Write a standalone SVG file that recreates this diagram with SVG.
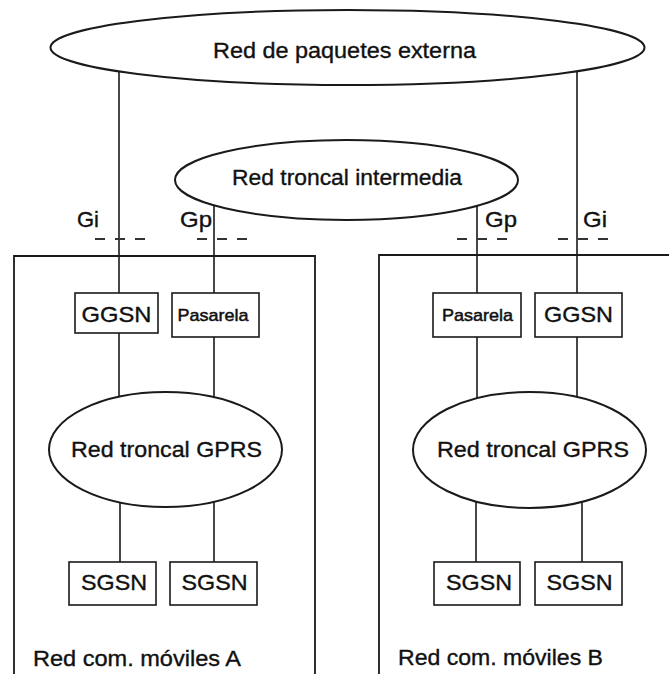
<svg xmlns="http://www.w3.org/2000/svg" width="669" height="674" viewBox="0 0 669 674">
  <style>
    .ln { stroke: #1a1a1a; stroke-width: 1.6; fill: none; }
    .dash { stroke: #333; stroke-width: 2; stroke-dasharray: 10 10; fill: none; }
    .net { stroke: #1a1a1a; stroke-width: 2; fill: #fff; }
    .box { stroke: #1a1a1a; stroke-width: 1.6; fill: #fff; }
    .zone { stroke: #1a1a1a; stroke-width: 1.8; fill: none; }
    text { font-family: "Liberation Sans", Arial, Helvetica, sans-serif; font-size: 22px; fill: #111; stroke: #111; stroke-width: 0.35; }
    .c { text-anchor: middle; }
    .sm { font-size: 17px; stroke-width: 0.5; }
  </style>
  <rect width="669" height="674" fill="#fff"/>

  <!-- operator domains (open at the bottom edge) -->
  <g id="domain-a">
    <path class="zone" d="M14,680 V256 H315 V680"/>
    <text x="33" y="666" textLength="208" lengthAdjust="spacingAndGlyphs">Red com. móviles A</text>
  </g>
  <g id="domain-b">
    <path class="zone" d="M379,680 V255 H680"/>
    <text x="398" y="665" textLength="205" lengthAdjust="spacingAndGlyphs">Red com. móviles B</text>
  </g>

  <!-- links and interface markers -->
  <g id="connectors">
    <!-- Gi links to the external packet network -->
    <line class="ln" x1="119" y1="60" x2="119" y2="293"/>
    <line class="ln" x1="577" y1="60" x2="577" y2="293"/>
    <!-- Gp links to the inter-operator backbone -->
    <line class="ln" x1="214" y1="190" x2="214" y2="293"/>
    <line class="ln" x1="477" y1="190" x2="477" y2="293"/>
    <!-- gateways to GPRS backbone A -->
    <line class="ln" x1="119" y1="332" x2="119" y2="420"/>
    <line class="ln" x1="214" y1="337" x2="214" y2="420"/>
    <!-- GPRS backbone A to SGSNs -->
    <line class="ln" x1="120" y1="470" x2="120" y2="562"/>
    <line class="ln" x1="214" y1="470" x2="214" y2="562"/>
    <!-- gateways to GPRS backbone B -->
    <line class="ln" x1="477" y1="337" x2="477" y2="420"/>
    <line class="ln" x1="577" y1="332" x2="577" y2="420"/>
    <!-- GPRS backbone B to SGSNs -->
    <line class="ln" x1="476" y1="470" x2="476" y2="562"/>
    <line class="ln" x1="582" y1="470" x2="582" y2="562"/>
    <!-- interface reference points -->
    <line class="dash" x1="95" y1="239" x2="147" y2="239"/>
    <line class="dash" x1="197" y1="239" x2="247" y2="239"/>
    <line class="dash" x1="457" y1="239" x2="507" y2="239"/>
    <line class="dash" x1="558" y1="239" x2="608" y2="239"/>
    <text x="77" y="227" textLength="22" lengthAdjust="spacingAndGlyphs">Gi</text>
    <text x="180" y="227" textLength="32" lengthAdjust="spacingAndGlyphs">Gp</text>
    <text x="485" y="227" textLength="32" lengthAdjust="spacingAndGlyphs">Gp</text>
    <text x="583" y="227" textLength="24" lengthAdjust="spacingAndGlyphs">Gi</text>
  </g>

  <g id="red-externa">
    <ellipse class="net" cx="347.5" cy="47.5" rx="297" ry="37.5"/>
    <text class="c" x="344.5" y="58" textLength="263" lengthAdjust="spacingAndGlyphs">Red de paquetes externa</text>
  </g>
  <g id="red-intermedia">
    <ellipse class="net" cx="346.5" cy="180" rx="171.5" ry="40"/>
    <text class="c" x="347" y="185" textLength="230" lengthAdjust="spacingAndGlyphs">Red troncal intermedia</text>
  </g>

  <!-- network A -->
  <g id="ggsn-a">
    <rect class="box" x="75" y="293" width="83" height="40"/>
    <text class="c" x="116.5" y="322" textLength="70" lengthAdjust="spacingAndGlyphs">GGSN</text>
  </g>
  <g id="pasarela-a">
    <rect class="box" x="172" y="293" width="87" height="44"/>
    <text class="c sm" x="213" y="321" textLength="71" lengthAdjust="spacingAndGlyphs">Pasarela</text>
  </g>
  <g id="gprs-a">
    <ellipse class="net" cx="165.5" cy="449.5" rx="116.5" ry="57.5"/>
    <text class="c" x="166.5" y="457" textLength="191" lengthAdjust="spacingAndGlyphs">Red troncal GPRS</text>
  </g>
  <g id="sgsn-a1">
    <rect class="box" x="69" y="562" width="87" height="43"/>
    <text class="c" x="114" y="590" textLength="66" lengthAdjust="spacingAndGlyphs">SGSN</text>
  </g>
  <g id="sgsn-a2">
    <rect class="box" x="170" y="562" width="87" height="43"/>
    <text class="c" x="214.5" y="590" textLength="66" lengthAdjust="spacingAndGlyphs">SGSN</text>
  </g>

  <!-- network B -->
  <g id="pasarela-b">
    <rect class="box" x="433" y="293" width="88" height="44"/>
    <text class="c sm" x="477.5" y="321" textLength="71" lengthAdjust="spacingAndGlyphs">Pasarela</text>
  </g>
  <g id="ggsn-b">
    <rect class="box" x="535" y="293" width="87" height="44"/>
    <text class="c" x="578.5" y="322" textLength="69" lengthAdjust="spacingAndGlyphs">GGSN</text>
  </g>
  <g id="gprs-b">
    <ellipse class="net" cx="529.5" cy="450" rx="116.5" ry="58"/>
    <text class="c" x="533" y="457" textLength="192" lengthAdjust="spacingAndGlyphs">Red troncal GPRS</text>
  </g>
  <g id="sgsn-b1">
    <rect class="box" x="434" y="562" width="86" height="43"/>
    <text class="c" x="479" y="590" textLength="66" lengthAdjust="spacingAndGlyphs">SGSN</text>
  </g>
  <g id="sgsn-b2">
    <rect class="box" x="535" y="562" width="87" height="43"/>
    <text class="c" x="579.5" y="590" textLength="66" lengthAdjust="spacingAndGlyphs">SGSN</text>
  </g>
</svg>
